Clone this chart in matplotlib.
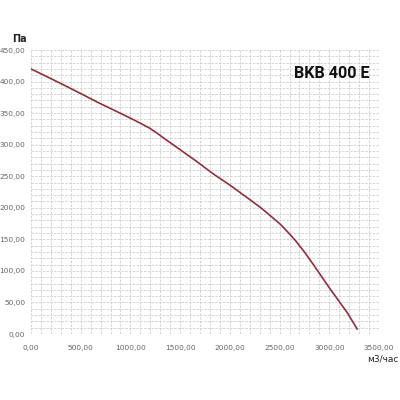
import matplotlib
matplotlib.use("Agg")
import matplotlib.pyplot as plt
import matplotlib.ticker as ticker

# fan curve
flow = [0, 170, 330, 500, 660, 830, 1000, 1100, 1200, 1270, 1330, 1500, 1670, 1830,
        2000, 2200, 2320, 2500, 2580, 2660, 2750, 2840, 3010, 3180, 3280]
pressure = [420, 407, 394.5, 381, 368, 355, 342, 334, 325.5, 318, 311, 292, 273, 254,
            236, 213, 199, 175, 162, 148, 130, 110, 71, 34, 8]

x_ticks = [0, 500, 1000, 1500, 2000, 2500, 3000, 3500]
y_ticks = [0, 50, 100, 150, 200, 250, 300, 350, 400, 450]
model = "BKB 400 E"

def fmt(v, pos=None):
    return "{:.2f}".format(v).replace(".", ",")

fig = plt.figure(figsize=(4, 4), dpi=100)
ax = fig.add_axes([0.0775, 0.165, 0.87, 0.71])

ax.plot(flow, pressure, color="#8e2f3c", lw=1.2, zorder=3)

ax.set_xlim(0, 3500)
ax.set_ylim(0, 450)
ax.set_xticks(x_ticks)
ax.set_yticks(y_ticks)
ax.xaxis.set_minor_locator(ticker.MultipleLocator(100))
ax.yaxis.set_minor_locator(ticker.MultipleLocator(10))
ax.xaxis.set_major_formatter(ticker.FuncFormatter(fmt))
ax.yaxis.set_major_formatter(ticker.FuncFormatter(fmt))
ax.grid(which="both", color="#cfcfcf", linestyle=(0, (3, 1.5)), lw=0.6)
ax.tick_params(which="both", length=0, labelsize=5.3, labelcolor="#666666")
ax.tick_params(axis="x", pad=8)
ax.tick_params(axis="y", pad=4)
for s in ax.spines.values():
    s.set_visible(False)

ax.text(3410, 413, model, ha="right", va="center", fontsize=11.6, fontweight="bold",
        family=["Roboto", "DejaVu Sans"], color="#111111")
fig.text(0.03, 0.895, "Па", fontsize=7, fontweight="bold", color="#222222")
fig.text(0.995, 0.095, "м3/час", fontsize=6.5, ha="right", color="#222222")

fig.savefig("out.png")
